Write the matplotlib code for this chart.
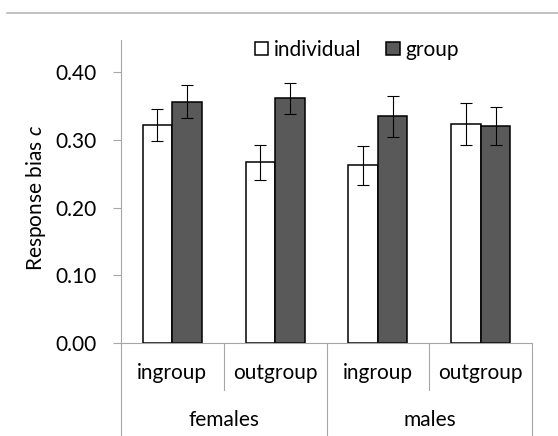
import matplotlib
matplotlib.use("Agg")
import matplotlib.pyplot as plt
from matplotlib.patches import Patch
from matplotlib.lines import Line2D
import numpy as np

groups = ["females", "males"]
targets = ["ingroup", "outgroup", "ingroup", "outgroup"]
series = ["individual", "group"]
individual = [0.322, 0.267, 0.263, 0.324]
individual_err = [0.024, 0.026, 0.029, 0.031]
group = [0.357, 0.362, 0.335, 0.321]
group_err = [0.025, 0.023, 0.030, 0.028]
yticks = [0.0, 0.1, 0.2, 0.3, 0.4]

FONT = "Lato"
plt.rcParams["font.family"] = [FONT, "DejaVu Sans"]
plt.rcParams["mathtext.fontset"] = "custom"
plt.rcParams["mathtext.it"] = FONT + ":italic"
plt.rcParams["mathtext.rm"] = FONT
FS = 15
GRAY = "#a6a6a6"

W, H = 558, 436
fig = plt.figure(figsize=(W / 100, H / 100), dpi=100)
x0, x1 = 120.7, 532.3
y0, y1 = 343, 40
ax = fig.add_axes([x0 / W, 1 - y0 / H, (x1 - x0) / W, (y0 - y1) / H])

x = np.arange(len(targets))
bw = 0.287
ax.bar(x - bw / 2, individual, bw, color="white", edgecolor="black", linewidth=1.1, zorder=2)
ax.bar(x + bw / 2, group, bw, color="#595959", edgecolor="black", linewidth=1.1, zorder=2)
ax.errorbar(x - bw / 2, individual, yerr=individual_err, fmt="none", ecolor="black",
            elinewidth=0.8, capsize=4.3, capthick=0.8, zorder=3)
ax.errorbar(x + bw / 2, group, yerr=group_err, fmt="none", ecolor="black",
            elinewidth=0.8, capsize=4.3, capthick=0.8, zorder=3)

ax.set_xlim(-0.5, len(targets) - 0.5)
ax.set_ylim(0, 0.448)
ax.set_yticks(yticks)
ax.set_yticklabels([f"{v:.2f}" for v in yticks], fontsize=FS)
ax.set_xticks([])
ax.tick_params(axis="y", direction="out", length=6, width=0.8, color=GRAY, pad=11)
for s in ["top", "right"]:
    ax.spines[s].set_visible(False)
for s in ["left", "bottom"]:
    ax.spines[s].set_color(GRAY)
    ax.spines[s].set_linewidth(0.8)

fig.text(36 / W, 1 - 198 / H, "Response bias $c$", rotation=90, ha="center", va="center",
         fontsize=FS)

# category axis
trans = ax.get_xaxis_transform()
inner_bot = (y0 - 390) / (y0 - y1)
outer_bot = (y0 - 440) / (y0 - y1)
for b in np.arange(-0.5, len(targets), 1.0):
    outer = (b == -0.5) or (b == len(targets) - 0.5) or (b == 1.5)
    ax.add_line(Line2D([b, b], [0, outer_bot if outer else inner_bot], transform=trans,
                       color=GRAY, linewidth=0.8, clip_on=False))
lab_y = (y0 - 373) / (y0 - y1)
for i, t in enumerate(targets):
    ax.text(i, lab_y, t, transform=trans, ha="center", va="center", fontsize=FS)
grp_y = (y0 - 420) / (y0 - y1)
for j, g in enumerate(groups):
    ax.text(2 * j + 0.5, grp_y, g, transform=trans, ha="center", va="center", fontsize=FS)

handles = [Patch(facecolor="white", edgecolor="black", linewidth=1.1),
           Patch(facecolor="#595959", edgecolor="black", linewidth=1.1)]
ax.legend(handles, series, ncol=2, frameon=False, fontsize=FS,
          loc="center", bbox_to_anchor=(0.574, 0.967),
          handlelength=0.63, handleheight=0.63, handletextpad=0.3, columnspacing=1.2,
          borderpad=0)

fig.add_artist(Line2D([7 / W, 1], [1 - 12.7 / H, 1 - 12.7 / H], transform=fig.transFigure,
                      color="#b8b8b8", linewidth=1.2))

fig.savefig("out.png", dpi=100)
